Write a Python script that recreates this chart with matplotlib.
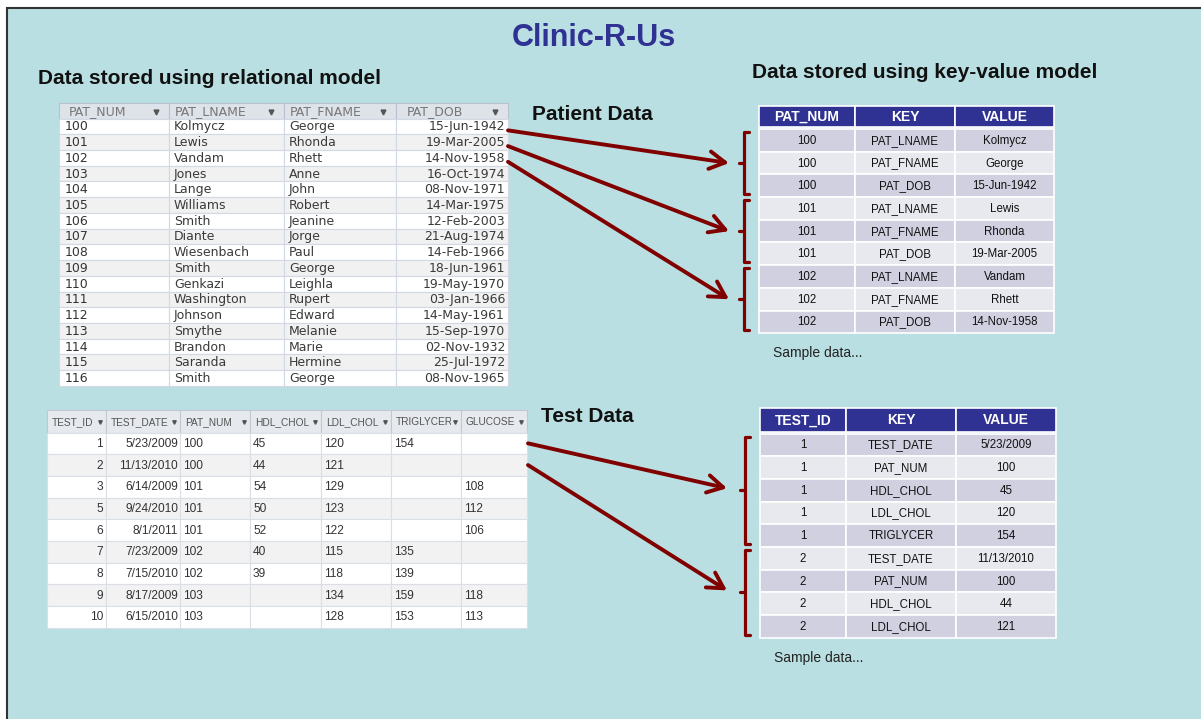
import matplotlib.pyplot as plt
from matplotlib.patches import Rectangle
from matplotlib.transforms import Bbox, TransformedBbox

plt.rcParams['font.family'] = ['Liberation Sans', 'DejaVu Sans']

# ---- relational model: patient table ----
pat_cols = ['PAT_NUM', 'PAT_LNAME', 'PAT_FNAME', 'PAT_DOB']
pat_num = [100, 101, 102, 103, 104, 105, 106, 107, 108, 109, 110, 111, 112, 113, 114, 115, 116]
pat_lname = ['Kolmycz', 'Lewis', 'Vandam', 'Jones', 'Lange', 'Williams', 'Smith', 'Diante',
             'Wiesenbach', 'Smith', 'Genkazi', 'Washington', 'Johnson', 'Smythe', 'Brandon',
             'Saranda', 'Smith']
pat_fname = ['George', 'Rhonda', 'Rhett', 'Anne', 'John', 'Robert', 'Jeanine', 'Jorge', 'Paul',
             'George', 'Leighla', 'Rupert', 'Edward', 'Melanie', 'Marie', 'Hermine', 'George']
pat_dob = ['15-Jun-1942', '19-Mar-2005', '14-Nov-1958', '16-Oct-1974', '08-Nov-1971',
           '14-Mar-1975', '12-Feb-2003', '21-Aug-1974', '14-Feb-1966', '18-Jun-1961',
           '19-May-1970', '03-Jan-1966', '14-May-1961', '15-Sep-1970', '02-Nov-1932',
           '25-Jul-1972', '08-Nov-1965']

# ---- relational model: test table ----
test_cols = ['TEST_ID', 'TEST_DATE', 'PAT_NUM', 'HDL_CHOL', 'LDL_CHOL', 'TRIGLYCER', 'GLUCOSE']
test_id = [1, 2, 3, 5, 6, 7, 8, 9, 10]
test_date = ['5/23/2009', '11/13/2010', '6/14/2009', '9/24/2010', '8/1/2011', '7/23/2009',
             '7/15/2010', '8/17/2009', '6/15/2010']
test_pat = [100, 100, 101, 101, 101, 102, 102, 103, 103]
hdl_chol = [45, 44, 54, 50, 52, 40, 39, None, None]
ldl_chol = [120, 121, 129, 123, 122, 115, 118, 134, 128]
triglycer = [154, None, None, None, None, 135, 139, 159, 153]
glucose = [None, None, 108, 112, 106, None, None, 118, 113]

# how many records are shown in the key-value samples
n_pat_sample = 3
n_test_sample = 2

RED = '#800000'
NAVY = '#2F3193'

fig = plt.figure(figsize=(12.01, 7.19), dpi=100)
ax = fig.add_axes([0, 0, 1, 1])
ax.set_xlim(0, 1201)
ax.set_ylim(719, 0)
ax.axis('off')

ax.add_patch(Rectangle((7, 8), 1220, 730, facecolor='#BADFE2', edgecolor='#333333', lw=1.5))


def box(x, y, w, h, fc, ec=None, lw=0.8):
    ax.add_patch(Rectangle((x, y), w, h, facecolor=fc, edgecolor=ec if ec else fc, lw=lw))


def clipped_text(x, y, s, x_clip, **kw):
    t = ax.text(x, y, s, clip_on=True, **kw)
    t.set_clip_box(TransformedBbox(Bbox.from_extents(0, 0, x_clip, 719), ax.transData))
    return t


def dropdown(x, y, size=3.5, color='#555555'):
    ax.plot([x], [y], marker='v', ms=size, color=color, mec=color)


# ===== titles =====
ax.text(594, 38, 'Clinic-R-Us', ha='center', va='center', fontsize=22, fontweight='bold', color=NAVY)
ax.text(38, 78, 'Data stored using relational model', ha='left', va='center', fontsize=15,
        fontweight='bold', color='#111111')
ax.text(752, 72, 'Data stored using key-value model', ha='left', va='center', fontsize=15,
        fontweight='bold', color='#111111')
ax.text(532, 115, 'Patient Data', ha='left', va='center', fontsize=15, fontweight='bold', color='#111111')
ax.text(541, 416, 'Test Data', ha='left', va='center', fontsize=15, fontweight='bold', color='#111111')

# ===== patient table (relational) =====
px = [59, 169, 284, 396, 508]
p_top, p_hh, p_rh = 103, 15.5, 15.73
p_body = p_top + p_hh
grid = '#D3D9E2'
for j, name in enumerate(pat_cols):
    box(px[j], p_top, px[j + 1] - px[j], p_hh, '#DEE3EA', '#B9C1CC')
    off = 11 if j == 3 else (10 if j == 0 else 6)
    clipped_text(px[j] + off, p_top + p_hh / 2 + 0.5, name, px[j + 1] - 24, ha='left', va='center',
                 fontsize=9, color='#777777', family='DejaVu Sans')
    dropdown(px[j + 1] - 13, p_top + p_hh / 2 + 1.5)
pat_rows = list(zip(pat_num, pat_lname, pat_fname, pat_dob))
for i, row in enumerate(pat_rows):
    y = p_body + i * p_rh
    fc = 'white' if i % 2 == 0 else '#F1F1F1'
    for j in range(4):
        box(px[j], y, px[j + 1] - px[j], p_rh, fc, grid, 0.8)
    yc = y + p_rh / 2 + 0.5
    ax.text(px[0] + 6, yc, str(row[0]), ha='left', va='center', fontsize=9, color='#333333',
            family='DejaVu Sans')
    ax.text(px[1] + 5, yc, row[1], ha='left', va='center', fontsize=9, color='#3A3A3A', family='DejaVu Sans')
    ax.text(px[2] + 5, yc, row[2], ha='left', va='center', fontsize=9, color='#3A3A3A', family='DejaVu Sans')
    ax.text(px[4] - 3, yc, row[3], ha='right', va='center', fontsize=9, color='#3A3A3A', family='DejaVu Sans')

# ===== test table (relational) =====
tx = [47, 106, 180, 250, 321, 391, 461, 527]
t_top, t_hh, t_rh = 410, 22.5, 21.7
t_body = t_top + t_hh
t_fs, t_hfs = 8.6, 7.3
for j, name in enumerate(test_cols):
    box(tx[j], t_top, tx[j + 1] - tx[j], t_hh, '#E6E9ED', '#C2C8D1')
    clipped_text(tx[j] + 5, t_top + t_hh / 2 + 0.5, name, tx[j + 1] - 10, ha='left', va='center',
                 fontsize=t_hfs, color='#555555')
    dropdown(tx[j + 1] - 6, t_top + t_hh / 2 + 1, size=2.5)
test_rows = list(zip(test_id, test_date, test_pat, hdl_chol, ldl_chol, triglycer, glucose))
for i, row in enumerate(test_rows):
    y = t_body + i * t_rh
    fc = 'white' if i % 2 == 0 else '#F2F2F2'
    for j in range(7):
        box(tx[j], y, tx[j + 1] - tx[j], t_rh, fc, '#DADEE5', 0.8)
    yc = y + t_rh / 2 + 0.5
    ax.text(tx[1] - 3, yc, str(row[0]), ha='right', va='center', fontsize=t_fs, color='#333333')
    ax.text(tx[2] - 2, yc, row[1], ha='right', va='center', fontsize=t_fs, color='#333333')
    for j in range(2, 7):
        if row[j] is not None:
            ax.text(tx[j] + 3, yc, str(row[j]), ha='left', va='center', fontsize=t_fs, color='#333333')

# ===== key-value tables =====
pat_kv = []
for i in range(n_pat_sample):
    pat_kv.append([])
    for k, v in zip(pat_cols[1:], [pat_lname[i], pat_fname[i], pat_dob[i]]):
        pat_kv[-1].append((str(pat_num[i]), k, v))

test_kv = []
for i in range(n_test_sample):
    test_kv.append([])
    vals = [test_date[i], test_pat[i], hdl_chol[i], ldl_chol[i], triglycer[i], glucose[i]]
    for k, v in zip(test_cols[1:], vals):
        if v is not None:
            test_kv[-1].append((str(test_id[i]), k, str(v)))


def kv_table(xs, top, hh, rh, head, groups, sample_y):
    for j, name in enumerate(head):
        box(xs[j], top, xs[j + 1] - xs[j], hh, NAVY, 'white', 1.2)
        ax.text((xs[j] + xs[j + 1]) / 2, top + hh / 2 + 0.5, name, ha='center', va='center',
                fontsize=10, fontweight='bold', color='white')
    y = top + hh + 2
    n = 0
    mids = []
    for grp in groups:
        g_top = y
        for row in grp:
            fc = '#D0D0E1' if n % 2 == 0 else '#E8E9EE'
            for j in range(3):
                box(xs[j], y, xs[j + 1] - xs[j], rh, fc, 'white', 1.2)
                ax.text((xs[j] + xs[j + 1]) / 2, y + rh / 2 + 0.5, row[j], ha='center', va='center',
                        fontsize=8.3, color='#111111')
            y += rh
            n += 1
        # red bracket for the record
        bx = xs[0] - 15
        ym = (g_top + y) / 2
        ax.plot([bx + 5, bx, bx, bx + 5], [g_top + 3, g_top + 3, y - 3, y - 3], color=RED, lw=2.3,
                solid_capstyle='round', solid_joinstyle='round')
        ax.plot([bx - 5, bx], [ym, ym], color=RED, lw=2.3, solid_capstyle='round')
        mids.append((bx, ym))
    ax.text(xs[0] + 14, sample_y, 'Sample data...', ha='left', va='center', fontsize=10, color='#222222')
    return mids


pat_mids = kv_table([759, 855, 955, 1054], 106, 21, 22.7, ['PAT_NUM', 'KEY', 'VALUE'], pat_kv, 353)
test_mids = kv_table([760, 846, 956, 1056], 408, 23.5, 22.7, ['TEST_ID', 'KEY', 'VALUE'], test_kv, 658)

# ===== arrows from relational rows to key-value records =====
arrow = dict(arrowstyle='->,head_length=0.8,head_width=0.45', color=RED, lw=2.8, mutation_scale=14,
             shrinkA=0, shrinkB=0)
for i, (bx, ym) in enumerate(pat_mids):
    ax.annotate('', xy=(bx - 15, ym), xytext=(px[-1], p_body + (i + 0.5) * p_rh + 4), arrowprops=arrow)
for i, (bx, ym) in enumerate(test_mids):
    ax.annotate('', xy=(bx - 18, ym - 2), xytext=(tx[-1] + 1, t_body + (i + 0.5) * t_rh), arrowprops=arrow)

fig.savefig('out.png', dpi=100)
